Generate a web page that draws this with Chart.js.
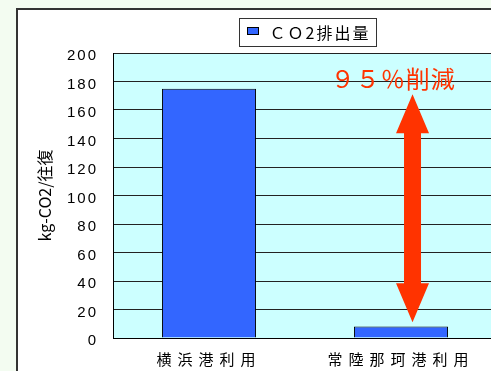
<!DOCTYPE html>
<html>
<head>
<meta charset="utf-8">
<script src="https://cdn.jsdelivr.net/npm/chart.js@4.4.1/dist/chart.umd.min.js"></script>
<style>
  html, body { margin: 0; padding: 0; width: 491px; height: 371px; overflow: hidden; background: #f3fcf1; }
  #frame { position: absolute; left: 16px; top: 8px; width: 520px; height: 400px; background: #fff;
           border-left: 2px solid #333; border-top: 2px solid #333; }
  #c { position: absolute; left: 0; top: 0; }
</style>
</head>
<body>
<div id="frame"></div>
<canvas id="c" width="497" height="371"></canvas>
<script>
const categories = ['横浜港利用', '常陸那珂港利用'];
const seriesLabel = 'ＣＯ2排出量';
const co2Values = [175, 8];
const yRange = [0, 200];
const yStep = 20;
const yTitle = 'kg-CO2/往復';

// annotation: "95% cut" note and double arrow, placed in data units
const noteText = '９５％削減';
const notePos = [0.96, 182];
const arrowX = 1.06;
const arrowRange = [11, 171];

const red = '#ff3300';
const spacing = { x: '6px', y: '2px' };

// label letter spacing per axis
const spacedLabels = {
  id: 'spacedLabels',
  afterLayout(chart) {
    for (const id in spacing) {
      const s = chart.scales[id];
      if (s._spaced) continue;
      const draw = s.drawLabels;
      s.drawLabels = function (area) {
        this.ctx.save();
        this.ctx.letterSpacing = spacing[id];
        draw.call(this, area);
        this.ctx.restore();
      };
      s._spaced = true;
    }
  }
};

const plotBg = {
  id: 'plotBg',
  beforeDraw(chart) {
    const { ctx, chartArea: a } = chart;
    ctx.save();
    ctx.fillStyle = '#ccffff';
    ctx.fillRect(a.left, a.top, a.right - a.left, a.bottom - a.top);
    ctx.restore();
  }
};

const note = {
  id: 'note',
  afterDatasetsDraw(chart) {
    const { ctx, scales: { x, y } } = chart;
    const ax = x.getPixelForValue(arrowX);
    const top = y.getPixelForValue(arrowRange[1]);
    const bot = y.getPixelForValue(arrowRange[0]);
    const head = 39, hw = 16.5, sw = 8.5;
    ctx.save();
    ctx.fillStyle = red;
    ctx.beginPath();
    ctx.moveTo(ax, top);
    ctx.lineTo(ax + hw, top + head);
    ctx.lineTo(ax + sw, top + head);
    ctx.lineTo(ax + sw, bot - head);
    ctx.lineTo(ax + hw, bot - head);
    ctx.lineTo(ax, bot);
    ctx.lineTo(ax - hw, bot - head);
    ctx.lineTo(ax - sw, bot - head);
    ctx.lineTo(ax - sw, top + head);
    ctx.lineTo(ax - hw, top + head);
    ctx.closePath();
    ctx.fill();

    ctx.font = '24px "Noto Sans CJK JP"';
    ctx.letterSpacing = '1px';
    ctx.textAlign = 'center';
    ctx.textBaseline = 'middle';
    ctx.fillText(noteText, x.getPixelForValue(notePos[0]), y.getPixelForValue(notePos[1]));
    ctx.restore();
  }
};

const boxLegend = {
  id: 'boxLegend',
  afterDraw(chart) {
    const { ctx, chartArea: a } = chart;
    const ds = chart.data.datasets[0];
    ctx.save();
    ctx.font = '16px "Noto Sans CJK JP"';
    ctx.letterSpacing = '2px';
    const tw = ctx.measureText(ds.label).width;
    const w = Math.round(tw + 36), h = 28;
    const left = Math.round((a.left + a.right) / 2 - w / 2) + 2.5, top = 18.5;
    ctx.fillStyle = '#fff';
    ctx.fillRect(left, top, w, h);
    ctx.strokeStyle = '#333';
    ctx.lineWidth = 1;
    ctx.strokeRect(left, top, w, h);
    ctx.fillStyle = ds.backgroundColor;
    ctx.fillRect(left + 8, top + 9, 11, 7);
    ctx.strokeStyle = '#000';
    ctx.strokeRect(left + 8, top + 9, 11, 7);
    ctx.fillStyle = '#000';
    ctx.textBaseline = 'middle';
    ctx.fillText(ds.label, left + 30, top + 14);
    ctx.restore();
  }
};

new Chart(document.getElementById('c'), {
  type: 'bar',
  data: {
    labels: categories,
    datasets: [{
      label: seriesLabel,
      data: co2Values,
      backgroundColor: '#3366ff',
      borderColor: '#000',
      borderWidth: 1,
      barPercentage: 1,
      categoryPercentage: 0.49
    }]
  },
  options: {
    responsive: false,
    animation: false,
    layout: { padding: { top: 53, right: 0, left: 0, bottom: 0 } },
    plugins: {
      legend: { display: false },
      tooltip: { enabled: false },
      title: { display: false }
    },
    scales: {
      x: {
        grid: { display: false },
        border: { color: '#000', width: 1 },
        ticks: { color: '#000', font: { family: '"Noto Sans CJK JP"', size: 15 }, padding: 4 },
        afterFit: s => { s.height = 33; }
      },
      y: {
        min: yRange[0],
        max: yRange[1],
        grid: { color: '#222', drawTicks: false },
        border: { color: '#000', width: 1 },
        ticks: {
          stepSize: yStep,
          color: '#000',
          font: { family: '"Liberation Sans"', size: 15 },
          padding: 15,
          labelOffset: 3,
          z: 1
        },
        title: {
          display: true,
          text: yTitle,
          color: '#000',
          font: { family: '"Noto Sans CJK JP"', size: 16 },
          padding: { top: 35, bottom: 0 }
        },
        afterFit: s => { s.width = 113; }
      }
    }
  },
  plugins: [spacedLabels, plotBg, note, boxLegend]
});
</script>
</body>
</html>
